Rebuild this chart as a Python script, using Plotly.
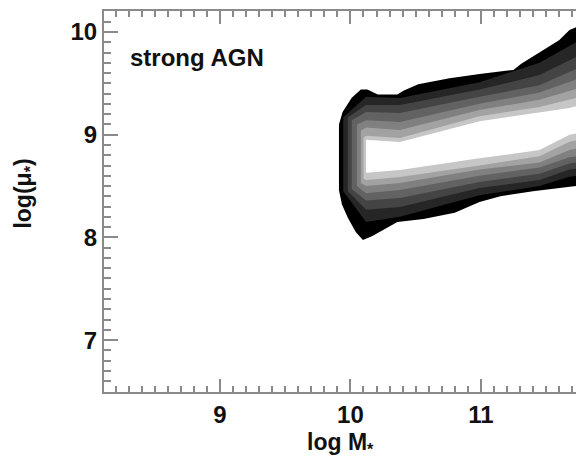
import plotly.graph_objects as go

# ---- data ----
x_ticks = [9, 10, 11]
y_ticks = [7, 8, 9, 10]
panel_label = "strong AGN"

# outermost (black) contour outline
outer_x = [9.912, 9.94, 10.01, 10.08, 10.13, 10.21, 10.36, 10.41, 10.52, 10.76, 10.99, 11.25, 11.31, 11.45, 11.60, 11.68, 11.80,
           11.80, 11.73, 11.40, 11.15, 10.99, 10.80, 10.56, 10.36, 10.25, 10.165, 10.096, 10.042, 9.981, 9.935, 9.912]
outer_y = [9.10, 9.22, 9.36, 9.44, 9.44, 9.39, 9.39, 9.43, 9.49, 9.55, 9.59, 9.63, 9.69, 9.80, 9.92, 10.02, 10.08,
           8.51, 8.50, 8.45, 8.40, 8.345, 8.24, 8.18, 8.15, 8.07, 8.01, 7.975, 8.05, 8.19, 8.32, 8.46]

# inner contour levels: sample x positions and boundaries
level_x = [10.12, 10.38, 10.99, 11.45, 11.68, 11.80]
level_colors = ["#262626", "#444444", "#626262", "#808080", "#a2a2a2", "#c6c6c6", "#ffffff"]
level_left_x = [9.945, 9.98, 10.01, 10.05, 10.08, 10.10, 10.12]
level_left_top = [9.17, 9.17, 9.14, 9.10, 9.04, 8.97, 8.95]
level_left_bot = [8.45, 8.45, 8.47, 8.50, 8.53, 8.57, 8.63]
level_top = [
    [9.37, 9.357, 9.51, 9.70, 9.87, 9.95],
    [9.29, 9.289, 9.44, 9.58, 9.73, 9.80],
    [9.22, 9.211, 9.37, 9.48, 9.61, 9.68],
    [9.14, 9.124, 9.30, 9.41, 9.51, 9.57],
    [9.07, 9.046, 9.24, 9.34, 9.42, 9.47],
    [8.99, 8.968, 9.18, 9.27, 9.34, 9.38],
    [8.95, 8.929, 9.13, 9.22, 9.26, 9.30],
]
level_bot = [
    [8.15, 8.20, 8.41, 8.50, 8.59, 8.61],
    [8.27, 8.296, 8.48, 8.56, 8.66, 8.68],
    [8.36, 8.384, 8.54, 8.62, 8.72, 8.74],
    [8.43, 8.462, 8.60, 8.68, 8.78, 8.80],
    [8.50, 8.53, 8.66, 8.73, 8.85, 8.88],
    [8.56, 8.588, 8.70, 8.79, 8.93, 8.96],
    [8.63, 8.656, 8.77, 8.85, 9.00, 9.03],
]

fig = go.Figure()
fig.add_trace(go.Scatter(x=outer_x, y=outer_y, fill="toself", fillcolor="#000000",
                         mode="lines", line=dict(width=0), hoverinfo="skip", showlegend=False))
for i, col in enumerate(level_colors):
    xs = [level_left_x[i]] + level_x + level_x[::-1] + [level_left_x[i]]
    ys = [level_left_top[i]] + level_top[i] + level_bot[i][::-1] + [level_left_bot[i]]
    fig.add_trace(go.Scatter(x=xs, y=ys, fill="toself", fillcolor=col,
                             mode="lines", line=dict(width=0), hoverinfo="skip", showlegend=False))

axcol = "#8a8a8a"
tickfont = dict(family="Liberation Sans, Arial", size=24, color="#111111", weight="bold")
fig.update_xaxes(range=[8.11, 11.73], tickvals=x_ticks, ticks="inside", ticklen=13, tickwidth=2,
                 tickcolor=axcol, showline=True, linecolor=axcol, linewidth=2, mirror="ticks",
                 showgrid=False, zeroline=False, tickfont=tickfont,
                 minor=dict(dtick=0.1, tick0=0, ticks="inside", ticklen=6, tickwidth=2, tickcolor=axcol, showgrid=False))
fig.update_yaxes(range=[6.495, 10.204], tickvals=y_ticks, ticks="inside", ticklen=14, tickwidth=2,
                 tickcolor=axcol, showline=True, linecolor=axcol, linewidth=2, mirror=False,
                 showgrid=False, zeroline=False, tickfont=tickfont,
                 minor=dict(dtick=0.1, tick0=0, ticks="inside", ticklen=7, tickwidth=2, tickcolor=axcol, showgrid=False))

titlefont = dict(family="Liberation Sans, Arial", size=23, color="#111111", weight="bold")
fig.add_annotation(text="log M<sub>*</sub>", xref="paper", yref="paper", x=0.5, y=-0.135,
                   showarrow=False, font=titlefont, xanchor="center", yanchor="middle")
fig.add_annotation(text="log(μ<sub>*</sub>)", xref="paper", yref="paper", x=-0.168, y=0.52,
                   showarrow=False, font=titlefont, textangle=-90, xanchor="center", yanchor="middle")
fig.add_annotation(text=panel_label, xref="paper", yref="paper", x=0.051, y=0.879,
                   showarrow=False, font=dict(family="Liberation Sans, Arial", size=24, color="#111111", weight="bold"),
                   xanchor="left", yanchor="middle")

fig.update_layout(width=576, height=465, margin=dict(l=104, r=0, t=11, b=73),
                  plot_bgcolor="white", paper_bgcolor="white")
fig.write_html("out.html")
